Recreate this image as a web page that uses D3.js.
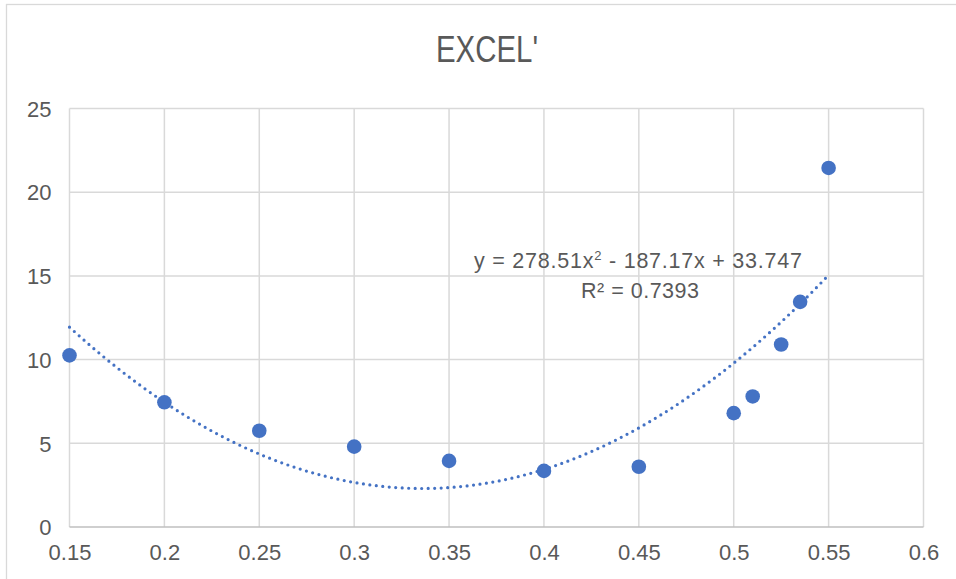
<!DOCTYPE html>
<html><head><meta charset="utf-8">
<script src="https://cdn.jsdelivr.net/npm/d3@7"></script>
<style>body{margin:0;background:#fff}svg{display:block}text{font-family:"Liberation Sans",Arial,sans-serif;fill:#595959}</style>
</head><body><svg id="c" width="956" height="579"></svg>
<script>
const xValues = [0.15, 0.2, 0.25, 0.3, 0.35, 0.4, 0.45, 0.5, 0.51, 0.525, 0.535, 0.55];
const yValues = [10.25, 7.45, 5.75, 4.8, 3.95, 3.35, 3.6, 6.8, 7.8, 10.9, 13.45, 21.45];
const xTicks = [0.15, 0.2, 0.25, 0.3, 0.35, 0.4, 0.45, 0.5, 0.55, 0.6];
const yTicks = [0, 5, 10, 15, 20, 25];
const trendCoef = [278.51, -187.17, 33.747];
const title = "EXCEL'";

const svg = d3.select("#c");
svg.append("rect").attr("x",6.5).attr("y",4.5).attr("width",1000).attr("height",1000)
  .attr("fill","#fff").attr("stroke","#d9d9d9").attr("stroke-width",1.3);

const x = d3.scaleLinear().domain([0.15,0.6]).range([69.5,923.5]);
const y = d3.scaleLinear().domain([0,25]).range([527,108.5]);

const g = svg.append("g");
g.selectAll(".hg").data(yTicks.filter(d=>d>0)).join("line")
  .attr("x1",x(0.15)).attr("x2",x(0.6)).attr("y1",d=>y(d)).attr("y2",d=>y(d))
  .attr("stroke","#d9d9d9").attr("stroke-width",1.5);
g.selectAll(".vg").data(xTicks).join("line")
  .attr("x1",d=>x(d)).attr("x2",d=>x(d)).attr("y1",y(0)).attr("y2",y(25))
  .attr("stroke","#d9d9d9").attr("stroke-width",1.5);
g.append("line").attr("x1",x(0.15)).attr("x2",x(0.6)).attr("y1",y(0)).attr("y2",y(0))
  .attr("stroke","#bfbfbf").attr("stroke-width",1.5);

const xa = svg.append("g").attr("transform",`translate(0,${y(0)})`)
  .call(d3.axisBottom(x).tickValues(xTicks).tickSize(0).tickPadding(0).tickFormat(d=>String(d)));
xa.select(".domain").remove();
xa.selectAll("text").attr("dy",null).attr("y",33).style("font-size","22px");
const ya = svg.append("g").attr("transform",`translate(${x(0.15)},0)`)
  .call(d3.axisLeft(y).tickValues(yTicks).tickSize(0).tickPadding(18).tickFormat(d=>String(d)));
ya.select(".domain").remove();
ya.selectAll("text").attr("dy","0.35em").style("font-size","22px");

const f = t => trendCoef[0]*t*t + trendCoef[1]*t + trendCoef[2];
const tr = d3.range(0,201).map(i => 0.15 + i*(0.4/200));
svg.append("path").datum(tr)
  .attr("d", d3.line().x(d=>x(d)).y(d=>y(f(d))))
  .attr("fill","none").attr("stroke","#4472c4").attr("stroke-width",3.2)
  .attr("stroke-linecap","round").attr("stroke-dasharray","0 6.5");

svg.selectAll(".pt").data(xValues).join("circle")
  .attr("cx",d=>x(d)).attr("cy",(d,i)=>y(yValues[i])).attr("r",7.3).attr("fill","#4472c4");

svg.append("text").attr("x",436).attr("y",62).attr("textLength",102).attr("lengthAdjust","spacingAndGlyphs")
  .style("font-size","36px").text(title);

const eq = svg.append("text").attr("x",474).attr("y",268).style("font-size","21.5px")
  .attr("textLength",328).attr("lengthAdjust","spacing");
eq.append("tspan").text("y = 278.51x");
eq.append("tspan").attr("dy",-8).style("font-size","13px").text("2");
eq.append("tspan").attr("dy",8).text(" - 187.17x + 33.747");
svg.append("text").attr("x",581).attr("y",298).style("font-size","21.5px")
  .attr("textLength",118).attr("lengthAdjust","spacing").text("R² = 0.7393");
</script></body></html>
